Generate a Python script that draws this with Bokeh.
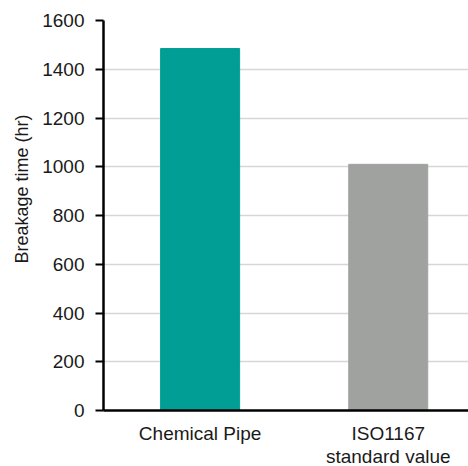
from bokeh.plotting import figure
from bokeh.models import ColumnDataSource, FixedTicker, Range1d, Title
from bokeh.embed import file_html
from bokeh.resources import INLINE

# data
categories = ["Chemical Pipe", "ISO1167\nstandard value"]
breakage_hours = [1485, 1010]
y_ticks = [0, 200, 400, 600, 800, 1000, 1200, 1400, 1600]
y_title = "Breakage time (hr)"

bar_colors = ["#009e94", "#a0a2a0"]
font = "Liberation Sans"
txt = "#1a1a1a"

xs = [i + 0.5 for i in range(len(categories))]
src = ColumnDataSource(dict(x=xs, top=breakage_hours, color=bar_colors))

p = figure(output_backend="svg", toolbar_location=None,
           x_range=Range1d(-0.0136, 1.9266), y_range=Range1d(0, 1600),
           frame_width=365, frame_height=390,
           min_border_left=103, min_border_right=0, min_border_top=20, min_border_bottom=56)
p.outline_line_color = None
p.background_fill_color = "white"

p.vbar(x="x", top="top", width=0.42, color="color", source=src)

# y axis
p.yaxis.ticker = FixedTicker(ticks=y_ticks)
p.yaxis.axis_line_width = 2.5
p.yaxis.axis_line_color = "black"
p.yaxis.major_tick_line_width = 2
p.yaxis.major_tick_line_color = "black"
p.yaxis.major_tick_out = 8
p.yaxis.major_tick_in = 0
p.yaxis.minor_tick_line_color = None
p.yaxis.major_label_text_font = font
p.yaxis.major_label_text_font_size = "19px"
p.yaxis.major_label_text_color = txt
p.yaxis.major_label_standoff = 11

# x axis
p.xaxis.ticker = FixedTicker(ticks=xs)
p.xaxis.major_label_overrides = {x: c for x, c in zip(xs, categories)}
p.xaxis.axis_line_width = 2.5
p.xaxis.axis_line_color = "black"
p.xaxis.major_tick_line_color = None
p.xaxis.minor_tick_line_color = None
p.xaxis.major_label_text_font = font
p.xaxis.major_label_text_font_size = "19px"
p.xaxis.major_label_text_color = txt
p.xaxis.major_label_text_line_height = 1.1
p.xaxis.major_label_standoff = 6

# grid
p.xgrid.grid_line_color = None
p.ygrid.ticker = FixedTicker(ticks=y_ticks[1:-1])
p.ygrid.grid_line_color = "#d6d6d6"
p.ygrid.grid_line_width = 1.5

t = Title(text=y_title, align="left", offset=147, text_font=font,
          text_font_size="18px", text_font_style="normal", text_color=txt,
          standoff=16)
p.add_layout(t, "left")

open("out.html", "w").write(file_html(p, INLINE))
